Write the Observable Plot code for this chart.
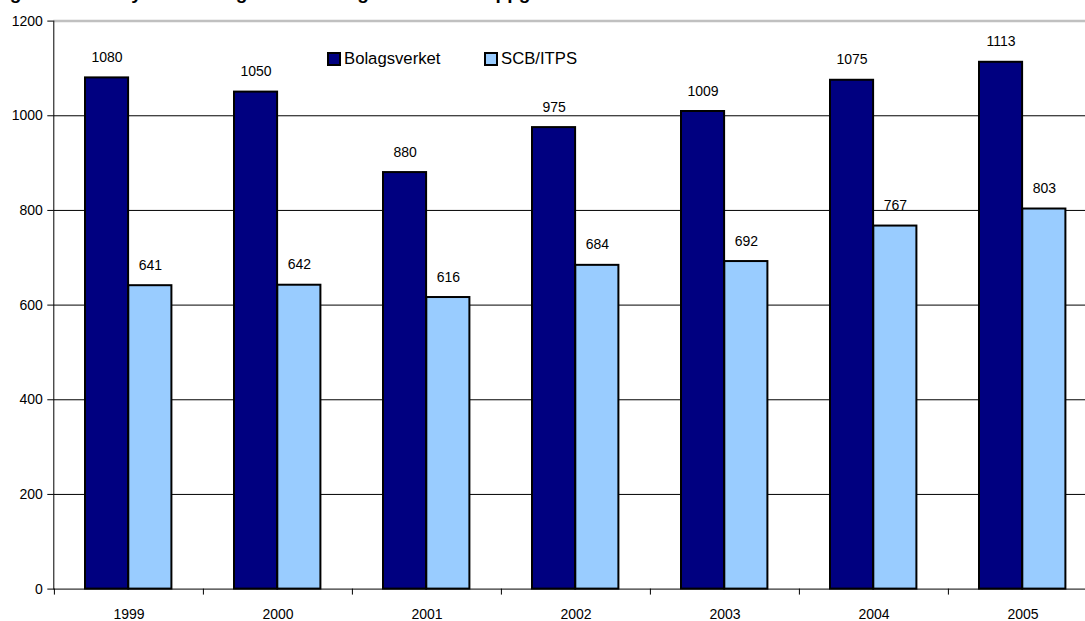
<!DOCTYPE html>
<html>
<head>
<meta charset="utf-8">
<script src="https://cdn.jsdelivr.net/npm/d3@7"></script>
<script src="https://cdn.jsdelivr.net/npm/@observablehq/plot@0.6"></script>
<style>
  html, body { margin: 0; padding: 0; background: white; overflow: hidden; }
  #wrap { position: relative; width: 1085px; height: 621px; overflow: hidden; font-family: "Liberation Sans", Arial, sans-serif; }
  #title { position: absolute; left: -44px; top: -17px; font-size: 19px; line-height: 19px; font-weight: bold; white-space: nowrap; color: black; }
  .leg { position: absolute; top: 50px; font-size: 16.7px; line-height: 18px; display: flex; align-items: center; color: black; }
  .sw { width: 10px; height: 10px; border: 2px solid black; margin-right: 3px; }
</style>
</head>
<body>
<div id="wrap">
  <div id="title">Ökning av antalet nya utlandsägda aktiebolag i två källors uppgifter</div>
  <div id="chart"></div>
  <div class="leg" style="left:327px"><div class="sw" style="background:#000080"></div>Bolagsverket</div>
  <div class="leg" style="left:484px"><div class="sw" style="background:#99ccff"></div>SCB/ITPS</div>
</div>
<script>
const years = ["1999", "2000", "2001", "2002", "2003", "2004", "2005"];
const bolagsverket = [1080, 1050, 880, 975, 1009, 1075, 1113];
const scbItps = [641, 642, 616, 684, 692, 767, 803];
const yTicks = [0, 200, 400, 600, 800, 1000, 1200];

const table = years.map((year, i) => ({year, bolag: bolagsverket[i], scb: scbItps[i]}));

const left = 53.3, step = 149.2;
const chart = Plot.plot({
  width: 1085,
  height: 621,
  marginLeft: left,
  marginRight: 0,
  marginTop: 20.6,
  marginBottom: 32.4,
  style: {fontFamily: "'Liberation Sans', Arial, sans-serif", fontSize: "14px", background: "white", color: "black"},
  x: {type: "band", domain: years, range: [left, left + years.length * step], padding: 0, label: null},
  y: {domain: [0, 1200], label: null},
  marks: [
    Plot.ruleY(yTicks.filter(d => d > 0 && d < 1200), {stroke: "black", strokeWidth: 1}),
    Plot.ruleY([1200], {stroke: "#c0c0c0", strokeWidth: 2.5}),
    Plot.barY(table, {x: "year", y: "bolag", fill: "#000080", stroke: "black", strokeWidth: 2, insetLeft: 31, insetRight: 74.9}),
    Plot.barY(table, {x: "year", y: "scb", fill: "#99ccff", stroke: "black", strokeWidth: 2, insetLeft: 74.3, insetRight: 31.6}),
    Plot.text(table, {x: "year", y: "bolag", text: d => String(d.bolag), dx: -21.95, dy: -16, lineAnchor: "bottom", fontSize: 14, fill: "black"}),
    Plot.text(table, {x: "year", y: "scb", text: d => String(d.scb), dx: 21.35, dy: -16, lineAnchor: "bottom", fontSize: 14, fill: "black"}),
    Plot.ruleY([0], {stroke: "black", strokeWidth: 1}),
    Plot.frame({anchor: "left", stroke: "black", strokeWidth: 1}),
    Plot.axisY({ticks: yTicks, tickSize: 6, tickPadding: 5, tickFormat: d => String(d), fontSize: 14, stroke: "black", fill: "black", label: null}),
    Plot.axisX({tickSize: 6, dx: -step / 2, fill: "none", stroke: "black", label: null}),
    Plot.axisX({tickSize: 0, tickPadding: 20, fontSize: 14, fill: "black", label: null})
  ]
});
document.getElementById("chart").appendChild(chart);
</script>
</body>
</html>
